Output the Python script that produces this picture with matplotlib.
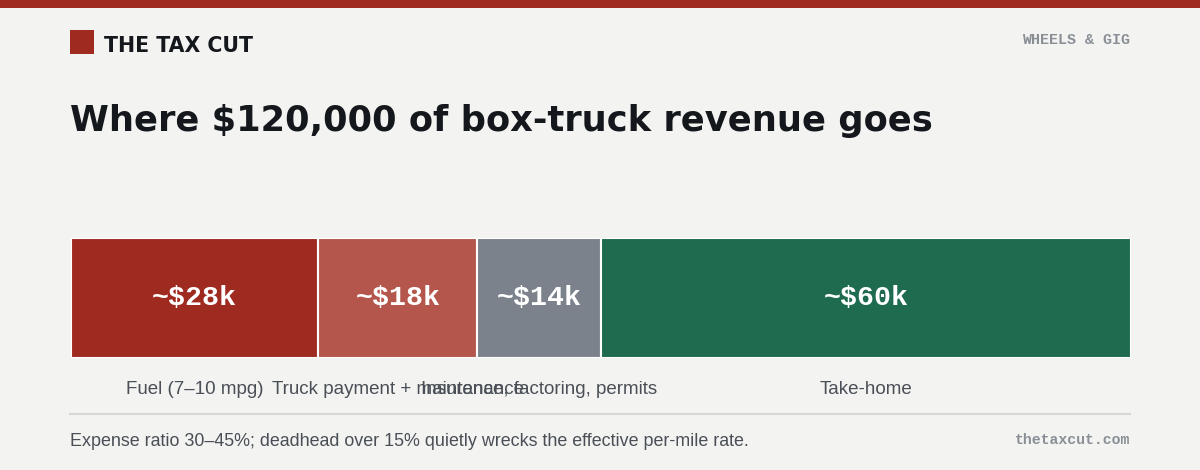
import matplotlib.pyplot as plt
import numpy as np

categories = ["Fuel (7–10 mpg)", "Truck payment + maintenance",
              "Insurance, factoring, permits", "Take-home"]
amounts = [28, 18, 14, 60]  # $k of 120k revenue
value_labels = ["~$28k", "~$18k", "~$14k", "~$60k"]
colors = ["#9e2a20", "#b4564b", "#7b828b", "#1e6b50"]

W, H = 1200, 470
fig = plt.figure(figsize=(W / 100, H / 100), dpi=100)
fig.patch.set_facecolor("#f3f4f1")

# overlay axes in pixel coordinates for chrome/text
bg = fig.add_axes([0, 0, 1, 1])
bg.set_xlim(0, W)
bg.set_ylim(H, 0)
bg.axis("off")

bg.add_patch(plt.Rectangle((0, 0), W, 8, color="#9e2a20", lw=0))
bg.add_patch(plt.Rectangle((70, 30), 24, 24, color="#9e2a20", lw=0))
bg.text(104, 46, "THE TAX CUT", fontsize=14.8, fontweight="heavy",
        color="#14171c", va="center", ha="left", family="DejaVu Sans")
bg.text(1130, 40, "WHEELS & GIG", fontsize=10.8, fontweight="bold",
        color="#8a8f97", va="center", ha="right", family="Liberation Mono")
bg.text(70, 121, "Where $120,000 of box-truck revenue goes", fontsize=25.4,
        fontweight="heavy", color="#14171c", va="center", ha="left",
        family="DejaVu Sans")

bg.plot([70, 1130], [414, 414], color="#d6d9d2", lw=1.5)
bg.text(70, 442, "Expense ratio 30–45%; deadhead over 15% quietly wrecks the effective per-mile rate.",
        fontsize=12.9, color="#4a4f57", va="center", ha="left",
        family="Liberation Sans")
bg.text(1130, 440, "thetaxcut.com", fontsize=10.7, fontweight="bold",
        color="#8a8f97", va="center", ha="right", family="Liberation Mono")

# stacked bar
x0, x1, y0, y1 = 71, 1131, 238, 358
ax = fig.add_axes([x0 / W, 1 - y1 / H, (x1 - x0) / W, (y1 - y0) / H])
ax.set_xlim(0, sum(amounts))
ax.set_ylim(-0.5, 0.5)
ax.axis("off")
lefts = np.concatenate([[0], np.cumsum(amounts)[:-1]])
ax.barh(0, amounts, left=lefts, height=1.0, color=colors,
        edgecolor="white", linewidth=1.5)
for l, a, v, c in zip(lefts, amounts, value_labels, categories):
    mid = l + a / 2
    ax.text(mid, 0, v, ha="center", va="center", color="white",
            fontsize=20.3, fontweight="bold", family="Liberation Mono")
    # category label under the bar, positioned in pixel space
    px = x0 + mid / sum(amounts) * (x1 - x0)
    bg.text(px, 389, c, ha="center", va="center", fontsize=13.5,
            color="#4a4f57", family="Liberation Sans")

fig.savefig("out.png", dpi=100, facecolor=fig.get_facecolor())
